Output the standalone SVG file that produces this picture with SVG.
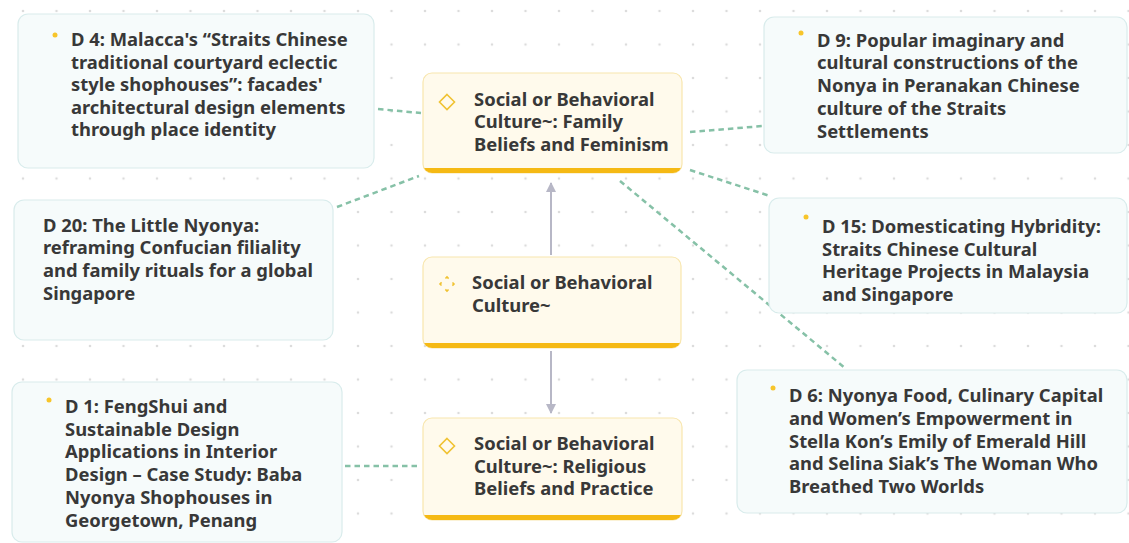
<svg xmlns="http://www.w3.org/2000/svg" width="1129" height="543" viewBox="0 0 1129 543">
<style>
.card{fill:#f6fbfb;stroke:#d9ecec;stroke-width:1.2}
.core{fill:#fffaec;stroke:#f8e6ad;stroke-width:1.2}
.bar{fill:#f5b914}
.t{font-family:"Noto Sans","Open Sans",sans-serif;font-weight:700;font-size:18.4px;fill:#383838}
.bul{fill:#f7c52a}
.ico{fill:none;stroke:#f0c232;stroke-width:1.6}
.dash{fill:none;stroke:#86c1a7;stroke-width:2.5;stroke-dasharray:5.5 4}
.arr{fill:none;stroke:#b7b7c6;stroke-width:2}
</style>
<defs>
<pattern id="dots" x="6.25" y="-5.75" width="33.5" height="33.5" patternUnits="userSpaceOnUse">
<circle cx="16.75" cy="16.75" r="1.3" fill="#dcdcdc"/>
</pattern>
<marker id="ah" viewBox="0 0 10 10" refX="9" refY="5" markerWidth="10" markerHeight="10" markerUnits="userSpaceOnUse" orient="auto">
<path d="M0,0 L10,5 L0,10 z" fill="#b7b7c6"/>
</marker>
<clipPath id="c1"><rect x="423" y="73" width="259" height="100" rx="9"/></clipPath>
<clipPath id="c2"><rect x="423" y="257" width="258" height="91" rx="9"/></clipPath>
<clipPath id="c3"><rect x="423" y="418" width="259" height="102" rx="9"/></clipPath>
</defs>
<rect x="0" y="0" width="1129" height="543" fill="#ffffff"/>
<rect x="0" y="0" width="1129" height="543" fill="url(#dots)"/>

<g id="connectors">
<path class="dash" d="M378,109 L421,113"/>
<path class="dash" d="M690,132 L763,126"/>
<path class="dash" d="M337,207 L419,176"/>
<path class="dash" d="M690,170 L770,196"/>
<path class="dash" d="M620,181 L845,368"/>
<path class="dash" d="M345,466 L421,466"/>
<path class="arr" d="M551,255 L551,183" marker-end="url(#ah)"/>
<path class="arr" d="M551,351 L551,413" marker-end="url(#ah)"/>
</g>

<g id="d4">
<rect class="card" x="18" y="14" width="356" height="154" rx="10"/>
<circle class="bul" cx="55" cy="35" r="2.5"/>
<text class="t"><tspan x="71" y="46">D 4: Malacca's “Straits Chinese</tspan><tspan x="71" y="68.6">traditional courtyard eclectic</tspan><tspan x="71" y="91.2">style shophouses”: facades'</tspan><tspan x="71" y="113.8">architectural design elements</tspan><tspan x="71" y="136.4">through place identity</tspan></text>
</g>

<g id="d9">
<rect class="card" x="764" y="17" width="363" height="136" rx="10"/>
<circle class="bul" cx="801" cy="33" r="2.5"/>
<text class="t"><tspan x="817" y="46.5">D 9: Popular imaginary and</tspan><tspan x="817" y="69.3">cultural constructions of the</tspan><tspan x="817" y="92.1">Nonya in Peranakan Chinese</tspan><tspan x="817" y="114.9">culture of the Straits</tspan><tspan x="817" y="137.7">Settlements</tspan></text>
</g>

<g id="d20">
<rect class="card" x="14" y="200" width="319" height="140" rx="10"/>
<text class="t"><tspan x="43" y="231.5">D 20: The Little Nyonya:</tspan><tspan x="43" y="254.3">reframing Confucian filiality</tspan><tspan x="43" y="277.1">and family rituals for a global</tspan><tspan x="43" y="299.9">Singapore</tspan></text>
</g>

<g id="d15">
<rect class="card" x="769" y="198" width="358" height="115" rx="10"/>
<circle class="bul" cx="806" cy="217" r="2.5"/>
<text class="t"><tspan x="822" y="233">D 15: Domesticating Hybridity:</tspan><tspan x="822" y="255.6">Straits Chinese Cultural</tspan><tspan x="822" y="278.2">Heritage Projects in Malaysia</tspan><tspan x="822" y="300.8">and Singapore</tspan></text>
</g>

<g id="d6">
<rect class="card" x="737" y="370" width="390" height="143" rx="10"/>
<circle class="bul" cx="773" cy="388" r="2.5"/>
<text class="t"><tspan x="789" y="402">D 6: Nyonya Food, Culinary Capital</tspan><tspan x="789" y="424.8">and Women’s Empowerment in</tspan><tspan x="789" y="447.6">Stella Kon’s Emily of Emerald Hill</tspan><tspan x="789" y="470.4">and Selina Siak’s The Woman Who</tspan><tspan x="789" y="493.2">Breathed Two Worlds</tspan></text>
</g>

<g id="d1">
<rect class="card" x="12" y="382" width="330" height="160" rx="10"/>
<circle class="bul" cx="49" cy="400" r="2.5"/>
<text class="t"><tspan x="65" y="412.7">D 1: FengShui and</tspan><tspan x="65" y="435.5">Sustainable Design</tspan><tspan x="65" y="458.3">Applications in Interior</tspan><tspan x="65" y="481.1">Design – Case Study: Baba</tspan><tspan x="65" y="503.9">Nyonya Shophouses in</tspan><tspan x="65" y="526.7">Georgetown, Penang</tspan></text>
</g>

<g id="family">
<rect class="core" x="423" y="73" width="259" height="100" rx="9"/>
<rect class="bar" x="423" y="168" width="259" height="6" clip-path="url(#c1)"/>
<polygon class="ico" points="447,94.5 454.5,102 447,109.5 439.5,102"/>
<text class="t"><tspan x="474" y="105.5">Social or Behavioral</tspan><tspan x="474" y="128.2">Culture~: Family</tspan><tspan x="474" y="150.9">Beliefs and Feminism</tspan></text>
</g>

<g id="core">
<rect class="core" x="423" y="257" width="258" height="91" rx="9"/>
<rect class="bar" x="423" y="343" width="258" height="6" clip-path="url(#c2)"/>
<polygon class="ico" points="447,277 454,284 447,291 440,284" stroke-dasharray="4.5 5.4" stroke-dashoffset="2.2"/>
<text class="t"><tspan x="472" y="289.2">Social or Behavioral</tspan><tspan x="472" y="312.2">Culture~</tspan></text>
</g>

<g id="religious">
<rect class="core" x="423" y="418" width="259" height="102" rx="9"/>
<rect class="bar" x="423" y="515" width="259" height="6" clip-path="url(#c3)"/>
<polygon class="ico" points="447,438.5 454.5,446 447,453.5 439.5,446"/>
<text class="t"><tspan x="474" y="450">Social or Behavioral</tspan><tspan x="474" y="472.7">Culture~: Religious</tspan><tspan x="474" y="495.4">Beliefs and Practice</tspan></text>
</g>
</svg>
